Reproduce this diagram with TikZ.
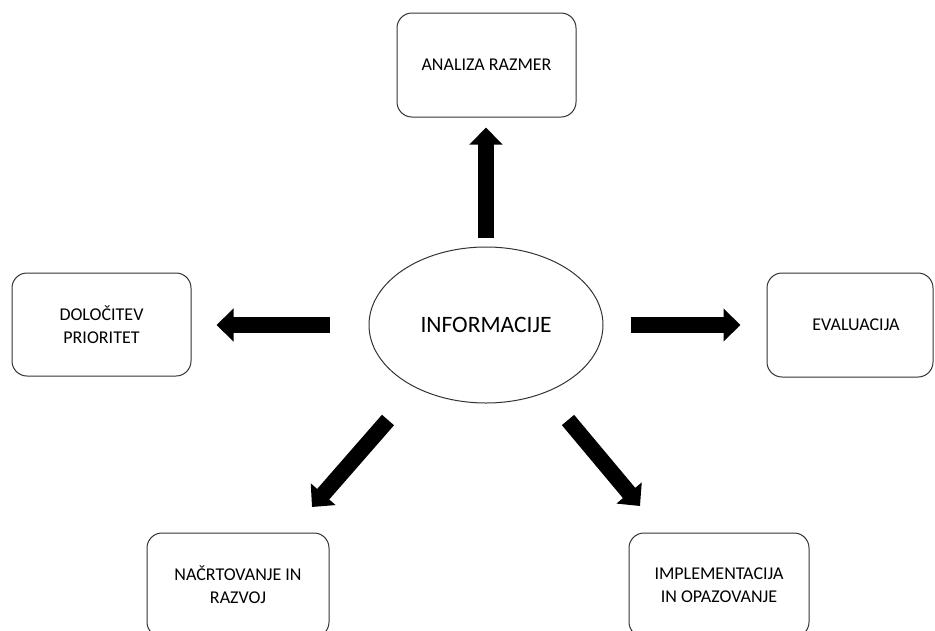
\documentclass[tikz,border=0pt]{standalone}
\usepackage{fontspec}
\setmainfont{Carlito}
\usetikzlibrary{arrows.meta,shapes.geometric}
\begin{document}
\begin{tikzpicture}[x=1pt,y=-1pt,
  box/.style={draw=black!80, line width=1pt, rounded corners=15pt,
    align=center, inner sep=0pt, text=black,
    font=\fontsize{18}{23}\selectfont},
  hub/.style={draw=black!80, line width=1pt, ellipse, inner sep=0pt,
    text=black, font=\fontsize{23.5}{27}\selectfont,
    minimum width=234pt, minimum height=156pt},
  fat/.style={line width=16pt, black, -{Triangle[width=32pt,length=17pt]}}]
\useasboundingbox (0,0) rectangle (935,630);

% centre
\node[hub] (info) at (486,325) {INFORMACIJE};

% surrounding steps
\node[box, minimum width=179pt, minimum height=104pt] (analiza) at (486.5,65) {ANALIZA RAZMER};
\node[box, minimum width=179pt, minimum height=103pt] (prior) at (101.5,324.5) {DOLOČITEV\\PRIORITET};
\node[box, minimum width=166pt, minimum height=104pt] (eval) at (850,325) {\hspace*{12pt}EVALUACIJA};
\node[box, minimum width=182pt, minimum height=104pt] (nacrt) at (238,585) {NAČRTOVANJE IN\\RAZVOJ};
\node[box, minimum width=180pt, minimum height=104pt] (impl) at (719,585) {IMPLEMENTACIJA\\IN OPAZOVANJE};

% ends of the diagonal arrows
\coordinate (lltail) at (388,420);
\coordinate (lltip) at (312,507);
\coordinate (lrtail) at (568,420);
\coordinate (lrtip) at (640,506);

% arrows
\draw[fat, shorten <=9pt, shorten >=10pt] (info.north) -- (info.north |- analiza.south);
\draw[fat, shorten <=39pt, shorten >=25pt] (info.west) -- (info.west -| prior.east);
\draw[fat, shorten <=27pt, shorten >=26pt] (info.east) -- (info.east -| eval.west);
\draw[fat] (lltail) -- (lltip);
\draw[fat] (lrtail) -- (lrtip);
\end{tikzpicture}
\end{document}
